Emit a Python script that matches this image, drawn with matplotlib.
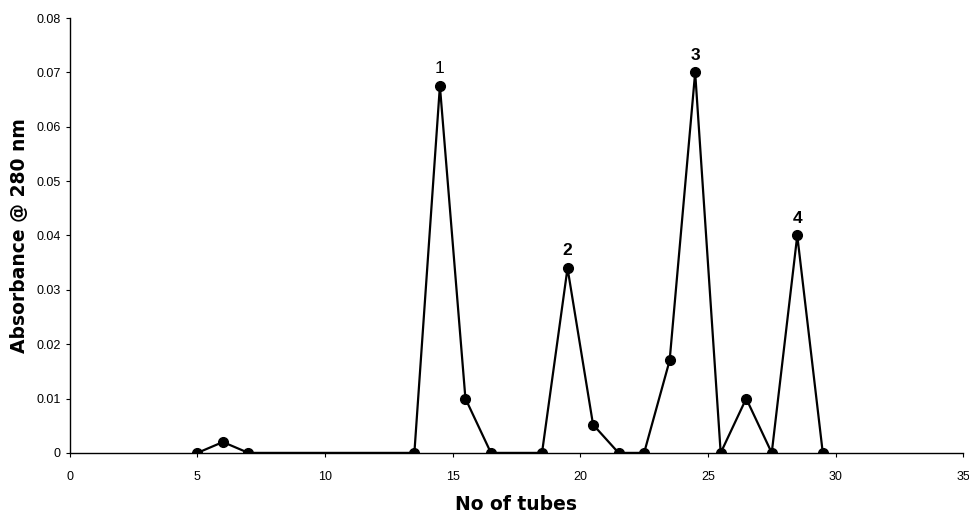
import matplotlib
matplotlib.use("Agg")
import matplotlib.pyplot as plt

# Fractions (tube numbers) and absorbance at 280 nm
tubes = [5, 6, 7, 13.5, 14.5, 15.5, 16.5, 18.5, 19.5, 20.5, 21.5,
         22.5, 23.5, 24.5, 25.5, 26.5, 27.5, 28.5, 29.5]
absorbance = [0, 0.002, 0, 0, 0.0675, 0.01, 0, 0, 0.034, 0.0052, 0,
              0, 0.017, 0.07, 0, 0.01, 0, 0.04, 0]

# Peak labels
peak_labels = ["1", "2", "3", "4"]
peak_x = [14.5, 19.5, 24.5, 28.5]
peak_y = [0.0675, 0.034, 0.07, 0.04]
peak_bold = [False, True, True, True]

plt.rcParams['font.family'] = ['Liberation Sans', 'DejaVu Sans']

fig = plt.figure(figsize=(9.69, 5.17), dpi=100)
ax = fig.add_axes([0.072, 0.124, 0.922, 0.841])

ax.plot(tubes, absorbance, color='black', linewidth=1.6,
        marker='o', markersize=7, markerfacecolor='black', markeredgecolor='black')

for lab, x, y, b in zip(peak_labels, peak_x, peak_y, peak_bold):
    ax.annotate(lab, (x, y), xytext=(0, 7), textcoords='offset points',
                ha='center', va='bottom', fontsize=12.5,
                fontweight='bold' if b else 'normal')

ax.set_xlim(0, 35)
ax.set_ylim(0, 0.08)
ax.set_xticks([0, 5, 10, 15, 20, 25, 30, 35])
ax.set_yticks([0, 0.01, 0.02, 0.03, 0.04, 0.05, 0.06, 0.07, 0.08])
ax.set_yticklabels(['0', '0.01', '0.02', '0.03', '0.04', '0.05', '0.06', '0.07', '0.08'])

ax.spines['top'].set_visible(False)
ax.spines['right'].set_visible(False)
ax.spines['left'].set_linewidth(1.0)
ax.spines['bottom'].set_linewidth(1.0)
ax.tick_params(axis='both', labelsize=9, length=3, width=0.8, direction='out')
ax.tick_params(axis='x', pad=10)

ax.set_xlabel('No of tubes', fontsize=13.5, fontweight='bold', labelpad=9,
              family='DejaVu Sans')
ax.set_ylabel('Absorbance @ 280 nm', fontsize=13.5, fontweight='bold', labelpad=5,
              family='DejaVu Sans')

fig.savefig('out.png', dpi=100)
